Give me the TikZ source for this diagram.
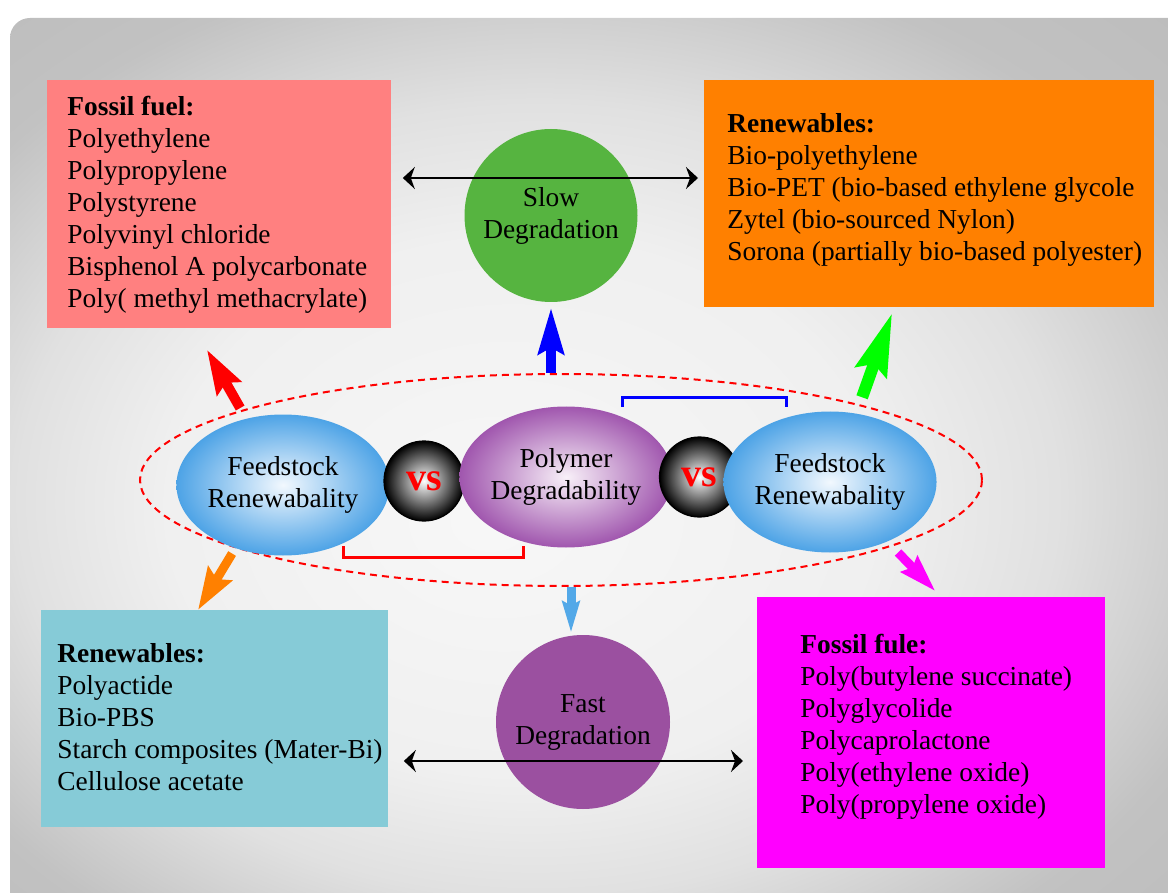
\documentclass[tikz,border=0pt]{standalone}
\usepackage{fontspec}
\setmainfont{Liberation Serif}
\usepackage{tikz}
\usetikzlibrary{arrows.meta,shapes.geometric,calc}

\definecolor{fossilred}{HTML}{FF8080}
\definecolor{renewor}{HTML}{FF8000}
\definecolor{aquabox}{HTML}{86CBD7}
\definecolor{fossilmag}{HTML}{FF00FF}
\definecolor{arrowgreen}{HTML}{00FF00}
\definecolor{slowgreen}{HTML}{56B440}
\definecolor{fastpurple}{HTML}{9B50A0}
\definecolor{skyedge}{HTML}{4DA3E6}
\definecolor{skyin}{HTML}{F2F8FE}
\definecolor{plumedge}{HTML}{A056AE}
\definecolor{plumin}{HTML}{F8F0F8}
\definecolor{arrowsky}{HTML}{52A8E8}

\pgfdeclareradialshading{panelshade}{\pgfpoint{-5bp}{-3bp}}{color(0bp)=(black!3); color(15bp)=(black!6); color(22bp)=(black!12); color(30bp)=(black!24); color(50bp)=(black!30)}

\begin{document}
\begin{tikzpicture}
  [x=0.5pt,y=-0.5pt,
   every node/.style={font=\fontsize{13.7}{16}\selectfont},
   listbox/.style={rectangle,anchor=north west,inner sep=0pt},
   listtext/.style={anchor=west,align=left,inner sep=0pt},
   blob/.style={ellipse,inner sep=0pt,minimum width=104.5pt,minimum height=70.5pt,align=center},
   vsball/.style={circle,inner sep=0pt,minimum size=40pt,draw=black,line width=0.6pt,
     shade,inner color=white,outer color=black,text=red,font=\fontsize{20}{20}\selectfont\bfseries},
   degr/.style={circle,inner sep=0pt,align=center},
   dbl/.style={line width=1pt,{Stealth[length=6pt,width=11pt,inset=2pt]}-{Stealth[length=6pt,width=11pt,inset=2pt]}},
   fat/.style={line width=5pt}]

  \useasboundingbox (0,0) rectangle (1168,893);
  \shade[shading=panelshade,rounded corners=10pt] (10,18) rectangle (1200,920);

  % the four lists
  \node[listbox,fill=fossilred,minimum width=172pt,minimum height=124pt] (fossil) at (47,80) {};
  \node[listtext] at ([xshift=10pt]fossil.west) {\textbf{Fossil fuel:}\\Polyethylene\\Polypropylene\\Polystyrene\\Polyvinyl chloride\\Bisphenol A polycarbonate\\Poly( methyl methacrylate)};

  \node[listbox,fill=renewor,minimum width=225pt,minimum height=113.5pt] (renew) at (704,80) {};
  \node[listtext] at ([xshift=11.5pt,yshift=2pt]renew.west) {\textbf{Renewables:}\\Bio-polyethylene\\Bio-PET (bio-based ethylene glycole\\Zytel (bio-sourced Nylon)\\Sorona (partially bio-based polyester)};

  \node[listbox,fill=aquabox,minimum width=173.5pt,minimum height=108.5pt] (aqua) at (41,610) {};
  \node[listtext] at ([xshift=8pt,yshift=1pt]aqua.west) {\textbf{Renewables:}\\Polyactide\\Bio-PBS\\Starch composites (Mater-Bi)\\Cellulose acetate};

  \node[listbox,fill=fossilmag,minimum width=174pt,minimum height=135.5pt] (mag) at (757,597) {};
  \node[listtext] at ([xshift=21.5pt,yshift=3pt]mag.west) {\textbf{Fossil fule:}\\Poly(butylene succinate)\\Polyglycolide\\Polycaprolactone\\Poly(ethylene oxide)\\Poly(propylene oxide)};

  \node[degr,fill=slowgreen,minimum size=86.5pt] (slow) at (551,215.5) {Slow\\Degradation};
  \node[degr,fill=fastpurple,minimum size=87pt] (fast) at (583,722) {Fast\\Degradation};

  \draw[dbl,shorten <=5.5pt,shorten >=3pt] (fossil.east |- 0,178) -- (renew.west |- 0,178);
  \draw[dbl,shorten <=7.5pt,shorten >=7pt] (aqua.east |- 0,761) -- (mag.west |- 0,761);

  % centre row
  \node[ellipse,draw=red,line width=1pt,dash pattern=on 3.5pt off 2.5pt,minimum width=421pt,minimum height=106pt] (ring) at (561,480) {};
  \node[blob,shade,inner color=skyin,outer color=skyedge] (feedL) at (283,485) {Feedstock\\Renewabality};
  \node[vsball] (vsL) at (424,481) {vs};
  \node[blob,shade,inner color=plumin,outer color=plumedge] (poly) at (566,477) {Polymer\\Degradability};
  \node[vsball] (vsR) at (699.5,477) {vs};
  \node[blob,shade,inner color=skyin,outer color=skyedge] (feedR) at (830,482) {Feedstock\\Renewabality};

  \draw[red,line width=1.5pt] (343,546) -- (343,557) -- (523,557) -- (523,546);
  \draw[blue,line width=1.5pt] (622,407) -- (622,398) -- (786,398) -- (786,407);

  \coordinate (fastin) at ([xshift=-6pt]fast.north);
  \draw[fat,blue,-{Stealth[length=23pt,width=12.5pt,inset=3pt]},shorten >=2.5pt] (slow.south |- ring.north) -- (slow.south);
  \draw[fat,red,-{Stealth[length=22pt,width=13.5pt,inset=3pt]},shorten <=6pt,shorten >=12pt] (feedL.119.5) -- ([xshift=74pt]fossil.south west);
  \draw[fat,line width=6pt,arrowgreen,-{Stealth[length=31pt,width=16pt,inset=4pt]},shorten <=8.5pt,shorten >=2.7pt] (feedR.69.1) -- ([xshift=95pt]renew.south west);
  \draw[fat,line width=4.5pt,renewor,-{Stealth[length=21pt,width=13.5pt,inset=3pt]},shorten <=3pt] (feedL.233.1) -- ([xshift=78.5pt]aqua.north west);
  \draw[fat,line width=4.5pt,fossilmag,-{Stealth[length=18.5pt,width=11pt,inset=2pt]},shorten <=7.5pt,shorten >=4pt] (feedR.-46.3) -- ([xshift=92pt]mag.north west);
  \draw[fat,line width=4.5pt,arrowsky,-{Stealth[length=15.5pt,width=8.5pt,inset=2pt]},shorten >=1pt] (fastin |- ring.south) -- (fastin);

\end{tikzpicture}
\end{document}
